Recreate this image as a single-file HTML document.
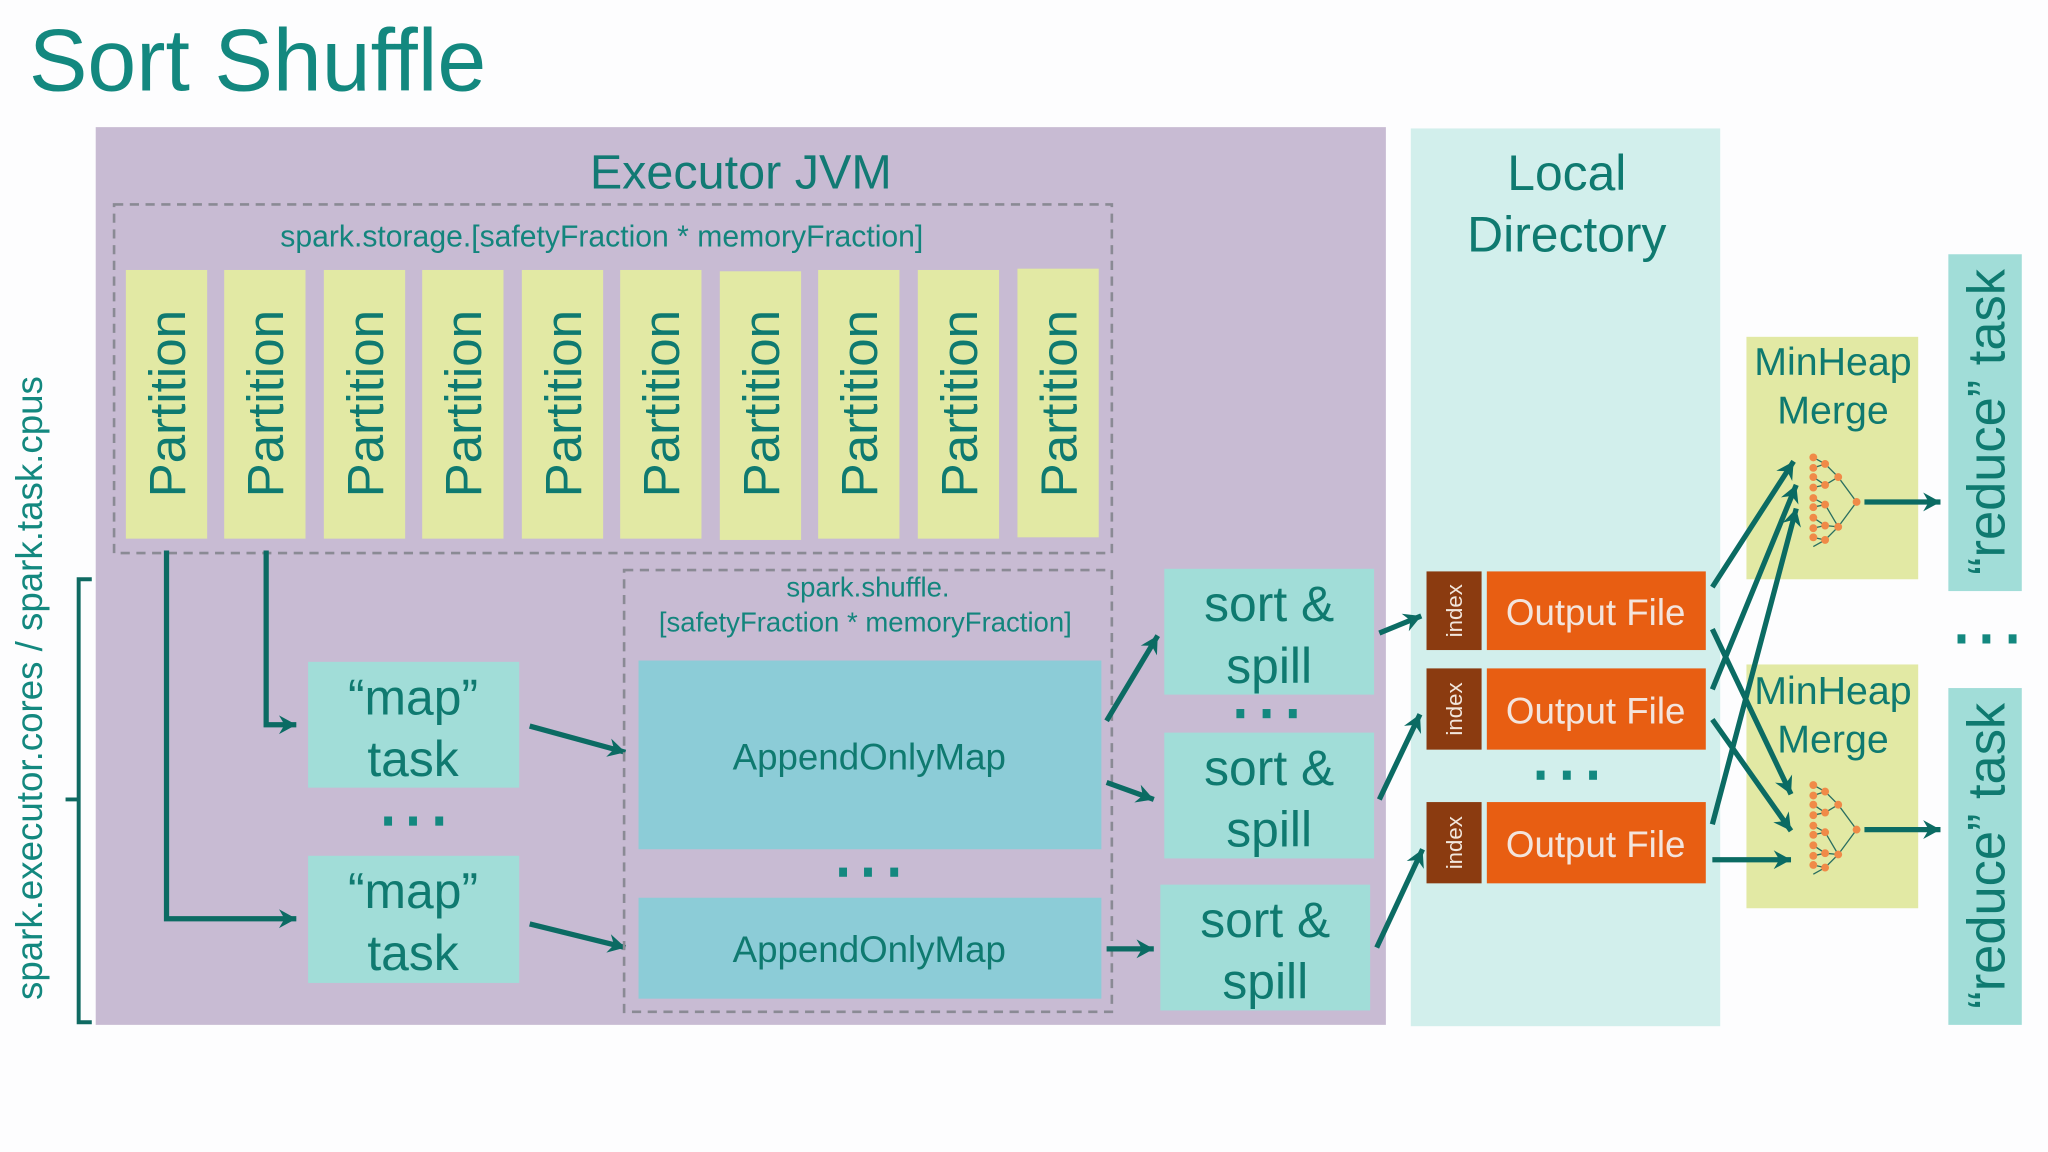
<!DOCTYPE html>
<html><head><meta charset="utf-8"><style>html,body{margin:0;padding:0;background:#fdfdfe}svg{display:block}</style></head>
<body>
<svg width="2048" height="1152" viewBox="0 0 1562 879" preserveAspectRatio="none" xmlns="http://www.w3.org/2000/svg" font-family="Liberation Sans, sans-serif">
<defs>
<marker id="a" viewBox="0 0 10 10" refX="9" refY="5" markerWidth="6" markerHeight="6" markerUnits="userSpaceOnUse" orient="auto" overflow="visible">
<path d="M-13,-7 L9,5 L-13,17 L-6,5 Z" fill="#0b6b63"/>
</marker>
</defs>
<rect width="1562" height="879" fill="#fdfdfe"/>
<text x="22" y="69" font-size="67" fill="#13887f">Sort Shuffle</text>

<rect x="73" y="97" width="984" height="685" fill="#c8bbd3"/>
<text x="565" y="144" font-size="37" fill="#127a74" text-anchor="middle">Executor JVM</text>
<rect x="87" y="156" width="761" height="266" fill="none" stroke="#8a8a94" stroke-width="2" stroke-dasharray="7,5"/>
<text x="459" y="188" font-size="23" fill="#13857d" text-anchor="middle">spark.storage.[safetyFraction * memoryFraction]</text>
<g fill="#e2e9a4">
<rect x="96" y="206" width="62" height="205"/><rect x="171" y="206" width="62" height="205"/><rect x="247" y="206" width="62" height="205"/><rect x="322" y="206" width="62" height="205"/><rect x="398" y="206" width="62" height="205"/><rect x="473" y="206" width="62" height="205"/><rect x="549" y="207" width="62" height="205"/><rect x="624" y="206" width="62" height="205"/><rect x="700" y="206" width="62" height="205"/><rect x="776" y="205" width="62" height="205"/>
</g>
<g font-size="39" fill="#0f7a70" text-anchor="middle">
<text transform="translate(141,308) rotate(-90)">Partition</text>
<text transform="translate(216,308) rotate(-90)">Partition</text>
<text transform="translate(292,308) rotate(-90)">Partition</text>
<text transform="translate(367,308) rotate(-90)">Partition</text>
<text transform="translate(443,308) rotate(-90)">Partition</text>
<text transform="translate(518,308) rotate(-90)">Partition</text>
<text transform="translate(594,308) rotate(-90)">Partition</text>
<text transform="translate(669,308) rotate(-90)">Partition</text>
<text transform="translate(745,308) rotate(-90)">Partition</text>
<text transform="translate(821,308) rotate(-90)">Partition</text>
</g>

<path d="M70,442 H60 V780 H70 M60,610 H50" fill="none" stroke="#0f6a62" stroke-width="3"/>
<text transform="translate(32,525) rotate(-90)" font-size="28" fill="#13887f" text-anchor="middle">spark.executor.cores / spark.task.cpus</text>

<g fill="#a1ddd8"><rect x="235" y="505" width="161" height="96"/><rect x="235" y="653" width="161" height="97"/></g>
<g font-size="38" fill="#0f7a70" text-anchor="middle">
<text x="315" y="545">“map”</text><text x="315" y="592">task</text>
<text x="315" y="693">“map”</text><text x="315" y="740">task</text>
</g>
<g fill="#13887f"><rect x="293" y="623" width="6" height="7"/><rect x="312" y="623" width="6" height="7"/><rect x="332" y="623" width="6" height="7"/></g>

<g stroke="#0b6b63" stroke-width="4" fill="none" marker-end="url(#a)">
<path d="M127,420 V701 H226"/>
<path d="M203,420 V553 H226"/>
<path d="M404,554 L477,574"/>
<path d="M404,705 L477,723"/>
</g>

<rect x="476" y="435" width="372" height="337" fill="none" stroke="#8a8a94" stroke-width="2" stroke-dasharray="7,5"/>
<text x="662" y="455" font-size="21" fill="#13857d" text-anchor="middle">spark.shuffle.</text>
<text x="660" y="482" font-size="21" fill="#13857d" text-anchor="middle">[safetyFraction * memoryFraction]</text>
<g fill="#8cccd7"><rect x="487" y="504" width="353" height="144"/><rect x="487" y="685" width="353" height="77"/></g>
<text x="663" y="587" font-size="28" fill="#0f7a70" text-anchor="middle">AppendOnlyMap</text>
<text x="663" y="734" font-size="28" fill="#0f7a70" text-anchor="middle">AppendOnlyMap</text>
<g fill="#13887f"><rect x="640" y="662" width="6" height="7"/><rect x="659" y="662" width="6" height="7"/><rect x="679" y="662" width="6" height="7"/></g>

<g fill="#a1ddd8"><rect x="888" y="434" width="160" height="96"/><rect x="888" y="559" width="160" height="96"/><rect x="885" y="675" width="160" height="96"/></g>
<g font-size="38" fill="#0f7a70" text-anchor="middle">
<text x="968" y="474">sort &amp;</text><text x="968" y="521">spill</text>
<text x="968" y="599">sort &amp;</text><text x="968" y="646">spill</text>
<text x="965" y="715">sort &amp;</text><text x="965" y="762">spill</text>
</g>
<g fill="#13887f"><rect x="943" y="541" width="6" height="7"/><rect x="963" y="541" width="6" height="7"/><rect x="983" y="541" width="6" height="7"/></g>

<rect x="1076" y="98" width="236" height="685" fill="#d2efec"/>
<text x="1195" y="145" font-size="38" fill="#0f7a70" text-anchor="middle">Local</text>
<text x="1195" y="192" font-size="38" fill="#0f7a70" text-anchor="middle">Directory</text>
<g fill="#8b3b10"><rect x="1088" y="436" width="42" height="60"/><rect x="1088" y="510" width="42" height="62"/><rect x="1088" y="612" width="42" height="62"/></g>
<g fill="#e85e12"><rect x="1134" y="436" width="167" height="60"/><rect x="1134" y="510" width="167" height="62"/><rect x="1134" y="612" width="167" height="62"/></g>
<g font-size="17" fill="#f2e6dc" text-anchor="middle">
<text transform="translate(1115,466) rotate(-90)">index</text>
<text transform="translate(1115,541) rotate(-90)">index</text>
<text transform="translate(1115,643) rotate(-90)">index</text>
</g>
<g font-size="28" fill="#f3e4dc" text-anchor="middle">
<text x="1217" y="477">Output File</text><text x="1217" y="552">Output File</text><text x="1217" y="654">Output File</text>
</g>
<g fill="#13887f"><rect x="1172" y="588" width="6" height="7"/><rect x="1192" y="588" width="6" height="7"/><rect x="1212" y="588" width="6" height="7"/></g>

<g stroke="#0b6b63" stroke-width="4" fill="none" marker-end="url(#a)">
<path d="M844,550 L883,485"/>
<path d="M844,597 L880,610"/>
<path d="M844,724 L880,724"/>
<path d="M1052,483 L1084,470"/>
<path d="M1052,610 L1083,545"/>
<path d="M1050,723 L1085,648"/>
</g>

<g fill="#e2e9a4"><rect x="1332" y="257" width="131" height="185"/><rect x="1332" y="507" width="131" height="186"/></g>
<g font-size="30" fill="#0f7a70" text-anchor="middle">
<text x="1398" y="286">MinHeap</text><text x="1398" y="323">Merge</text>
<text x="1398" y="537">MinHeap</text><text x="1398" y="574">Merge</text>
</g>
<g id="t1">
<path d="M1383,349 L1392,354 L1402,364 L1416,383 L1402,402 L1392,412 L1383,417 M1383,357 L1392,354 M1383,364 L1392,370 L1402,364 M1383,372 L1392,370 M1383,380 L1392,385 L1402,402 M1383,387 L1392,385 M1383,395 L1392,401 L1402,402 M1383,403 L1392,401 M1383,410 L1392,412" stroke="#2a6e60" stroke-width="1" fill="none"/>
<g fill="#f08a48">
<circle cx="1383" cy="349" r="3"/><circle cx="1383" cy="357" r="3"/><circle cx="1383" cy="364" r="3"/><circle cx="1383" cy="372" r="3"/><circle cx="1383" cy="380" r="3"/><circle cx="1383" cy="387" r="3"/><circle cx="1383" cy="395" r="3"/><circle cx="1383" cy="403" r="3"/><circle cx="1383" cy="410" r="3"/>
<circle cx="1392" cy="354" r="3"/><circle cx="1392" cy="370" r="3"/><circle cx="1392" cy="385" r="3"/><circle cx="1392" cy="401" r="3"/><circle cx="1392" cy="412" r="3"/>
<circle cx="1402" cy="364" r="3"/><circle cx="1402" cy="402" r="3"/><circle cx="1416" cy="383" r="3"/>
</g>
</g>
<use href="#t1" transform="translate(0,250)"/>

<g stroke="#0b6b63" stroke-width="4" fill="none" marker-end="url(#a)">
<path d="M1306,448 L1368,352"/>
<path d="M1306,526 L1370,370"/>
<path d="M1306,629 L1370,388"/>
<path d="M1306,480 L1366,606"/>
<path d="M1306,549 L1366,634"/>
<path d="M1306,656 L1366,656"/>
<path d="M1422,383 L1480,383"/>
<path d="M1422,633 L1480,633"/>
</g>

<g fill="#a1ddd8"><rect x="1486" y="194" width="56" height="257"/><rect x="1486" y="525" width="56" height="257"/></g>
<g font-size="40" fill="#0f7a70" text-anchor="middle">
<text transform="translate(1529,322) rotate(-90)">“reduce” task</text>
<text transform="translate(1529,653) rotate(-90)">“reduce” task</text>
</g>
<g fill="#13887f"><rect x="1493" y="484" width="6" height="7"/><rect x="1512" y="484" width="6" height="7"/><rect x="1532" y="484" width="6" height="7"/></g>
</svg>
</body></html>
